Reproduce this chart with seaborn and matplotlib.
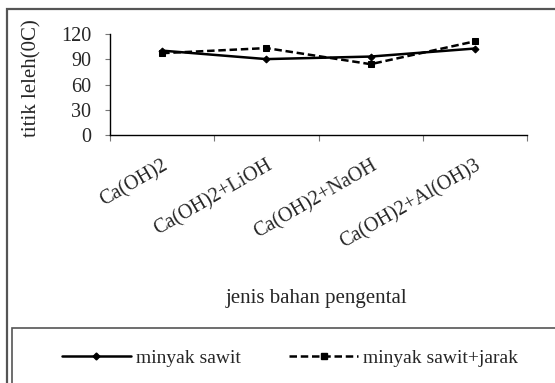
import matplotlib
matplotlib.use("Agg")
import matplotlib.pyplot as plt
import seaborn as sns
import pandas as pd
from matplotlib.patches import Rectangle
from matplotlib.lines import Line2D

categories = ["Ca(OH)2", "Ca(OH)2+LiOH", "Ca(OH)2+NaOH", "Ca(OH)2+Al(OH)3"]
sawit = [100, 90, 93, 102.5]
sawit_jarak = [97, 103, 84, 111]
series_names = ["minyak sawit", "minyak sawit+jarak"]
yticks = [0, 30, 60, 90, 120]

df = pd.DataFrame({
    "x": list(range(len(categories))) * 2,
    "y": sawit + sawit_jarak,
    "series": [series_names[0]] * len(categories) + [series_names[1]] * len(categories),
})

sns.set_style("white")
plt.rcParams["font.family"] = ["Liberation Serif", "DejaVu Serif"]
FS_T = 14.5
FS = 15
FS_L = 14

fig = plt.figure(figsize=(5.55, 3.83), dpi=100)
ax = fig.add_axes([110 / 555, 1 - 135.3 / 383, (527 - 110) / 555, (135.3 - 33.7) / 383])

sns.lineplot(data=df, x="x", y="y", style="series", hue="series",
             palette=["black", "black"],
             markers={series_names[0]: "D", series_names[1]: "s"},
             dashes={series_names[0]: "", series_names[1]: (3, 1.5)},
             linewidth=1.8, markersize=4, markeredgecolor="black",
             ax=ax, legend=False)
lines = ax.get_lines()
if len(lines) >= 2:
    lines[0].set_markersize(3.5)
    lines[1].set_markersize(5)

ax.set_xlim(-0.5, len(categories) - 0.5)
ax.set_ylim(0, 120)
ax.set_yticks(yticks)
ax.set_yticklabels([str(v) for v in yticks], fontsize=FS_T)
ax.set_xticks([i - 0.5 for i in range(len(categories) + 1)])
ax.set_xticklabels([])
ax.set_xticks(range(len(categories)), minor=True)
ax.set_xticklabels(categories, minor=True, rotation=30, ha="right",
                   rotation_mode="anchor", fontsize=FS_T)
ax.tick_params(axis="x", which="minor", length=0, pad=15)
ax.tick_params(axis="x", which="major", length=4, width=0.8, color="#777777", direction="out", bottom=True)
ax.tick_params(axis="y", length=3.6, width=0.8, color="#777777", direction="out", left=True, pad=10)

for s in ["top", "right"]:
    ax.spines[s].set_visible(False)
for s in ["left", "bottom"]:
    ax.spines[s].set_color("black")
    ax.spines[s].set_linewidth(1.0)

ax.set_xlabel("")
ax.set_ylabel("")
fig.text(32 / 555, 1 - 78.5 / 383, "titik leleh(0C)", fontsize=FS,
         rotation=90, ha="center", va="center")
fig.text(316 / 555, 1 - 298 / 383, "jenis bahan pengental", fontsize=FS,
         ha="center", va="center")

handles = [
    Line2D([], [], color="black", lw=1.8, marker="D", markersize=3.5),
    Line2D([], [], color="black", lw=1.8, ls=(0, (3, 1.5)), marker="s", markersize=5),
]
fig.legend(handles, series_names, loc="center", bbox_to_anchor=(290 / 555, 1 - 358 / 383),
           ncol=2, frameon=False, fontsize=FS_L, handlelength=3.55, handletextpad=0.26,
           columnspacing=2.5)

fig.add_artist(Rectangle((7.3 / 555, -0.2), 1.2, 0.2 + 1 - 9.3 / 383,
                         transform=fig.transFigure, fill=False, edgecolor="#555555",
                         lw=1.6, clip_on=False))
fig.add_artist(Rectangle((11.7 / 555, -0.2), 1.2, 0.2 + 1 - 327.7 / 383,
                         transform=fig.transFigure, fill=False, edgecolor="#555555",
                         lw=1.2, clip_on=False))

fig.savefig("out.png", dpi=100)
